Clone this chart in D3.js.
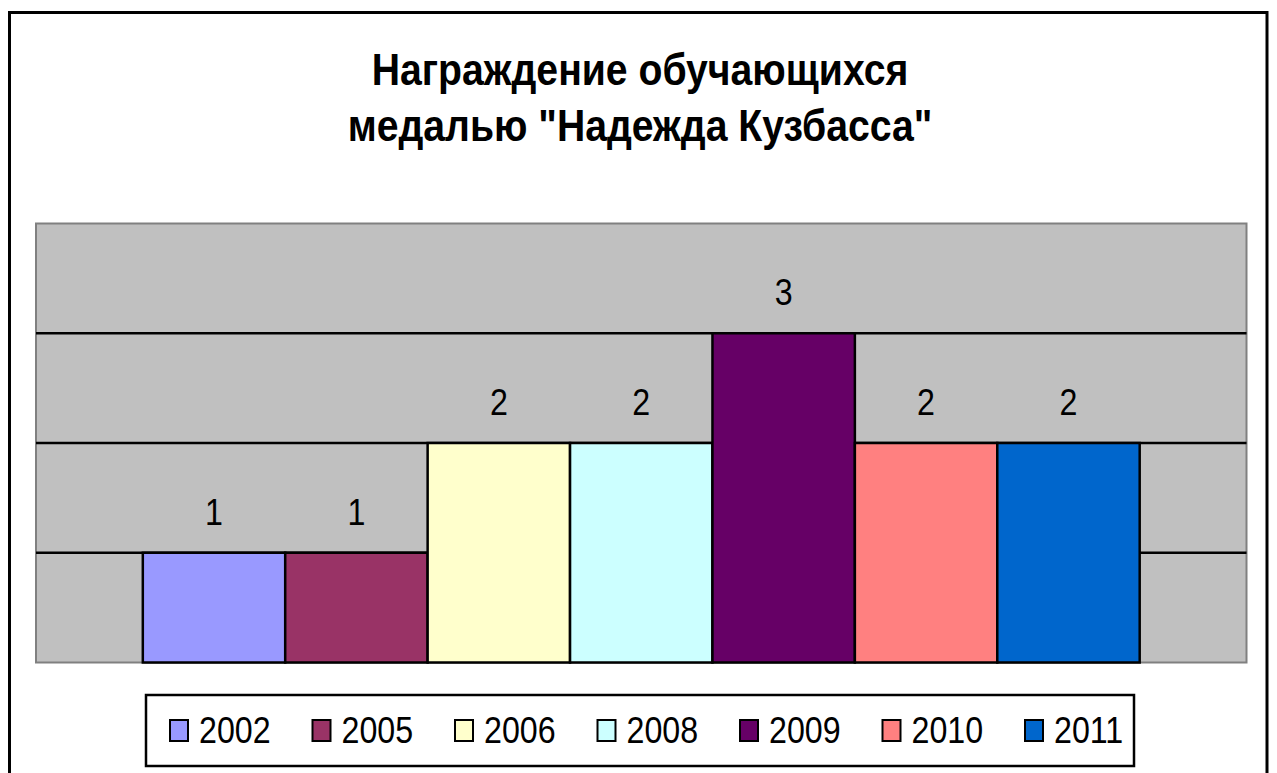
<!DOCTYPE html>
<html lang="ru">
<head>
  <meta charset="UTF-8">
  <title>Награждение обучающихся медалью "Надежда Кузбасса"</title>
  <script src="https://d3js.org/d3.v7.min.js"></script>
  <style>
    body { margin: 0; background: #fff; }
    svg { display: block; font-family: "Liberation Sans", Arial, sans-serif; }
  </style>
</head>
<body>
  <svg width="1277" height="773"></svg>

  <script>
    // data
    const years = ["2002", "2005", "2006", "2008", "2009", "2010", "2011"];
    const values = [1, 1, 2, 2, 3, 2, 2];
    const colors = ["#9999FF", "#993366", "#FFFFCC", "#CCFFFF", "#660066", "#FF8080", "#0066CC"];
    const yTicks = [0, 1, 2, 3, 4];
    const titleLines = ["Награждение обучающихся", "медалью \"Надежда Кузбасса\""];

    const svg = d3.select("svg");
    const sx = 0.87; // text in the original is squeezed horizontally

    // outer frame
    svg.append("rect")
      .attr("x", 9.5).attr("y", 12.5)
      .attr("width", 1257.5).attr("height", 800)
      .attr("fill", "#fff")
      .attr("stroke", "#000").attr("stroke-width", 3);

    // title
    const title = svg.append("g");
    titleLines.forEach((t, i) => {
      title.append("g")
        .attr("transform", `translate(640,${85 + i * 56}) scale(0.89,1)`)
        .append("text")
        .attr("text-anchor", "middle")
        .attr("font-size", 44)
        .attr("font-weight", "bold")
        .text(t);
    });

    // plot area
    const plot = { left: 36, right: 1246.5, top: 223.5, bottom: 662.5 };

    const x = d3.scaleBand()
      .domain(years)
      .range([plot.left, plot.right])
      .paddingInner(0)
      .paddingOuter(0.75);

    const y = d3.scaleLinear()
      .domain([0, 4])
      .range([plot.bottom, plot.top]);

    svg.append("rect")
      .attr("x", plot.left).attr("y", plot.top)
      .attr("width", plot.right - plot.left)
      .attr("height", plot.bottom - plot.top)
      .attr("fill", "#C0C0C0")
      .attr("stroke", "#808080").attr("stroke-width", 2);

    svg.append("g")
      .selectAll("line")
      .data(yTicks.filter(d => d > 0 && d < 4))
      .enter().append("line")
      .attr("x1", plot.left).attr("x2", plot.right)
      .attr("y1", d => y(d)).attr("y2", d => y(d))
      .attr("stroke", "#000").attr("stroke-width", 2.5);

    // bars
    svg.append("g")
      .selectAll("rect")
      .data(years)
      .enter().append("rect")
      .attr("x", d => x(d))
      .attr("y", (d, i) => y(values[i]))
      .attr("width", x.bandwidth())
      .attr("height", (d, i) => y(0) - y(values[i]))
      .attr("fill", (d, i) => colors[i])
      .attr("stroke", "#000").attr("stroke-width", 2.5);

    // data labels
    svg.append("g")
      .selectAll("g")
      .data(years)
      .enter().append("g")
      .attr("transform", (d, i) => `translate(${x(d) + x.bandwidth() / 2},${y(values[i]) - 28}) scale(${sx},1)`)
      .append("text")
      .attr("text-anchor", "middle")
      .attr("font-size", 37)
      .text((d, i) => values[i]);

    // legend
    const legend = svg.append("g");
    legend.append("rect")
      .attr("x", 146).attr("y", 695)
      .attr("width", 988).attr("height", 71)
      .attr("fill", "#fff")
      .attr("stroke", "#000").attr("stroke-width", 2.5);

    const item = legend.selectAll("g.item")
      .data(years)
      .enter().append("g")
      .attr("class", "item")
      .attr("transform", (d, i) => `translate(${170 + i * 142.5},0)`);

    item.append("rect")
      .attr("x", 0).attr("y", 720)
      .attr("width", 18).attr("height", 21)
      .attr("fill", (d, i) => colors[i])
      .attr("stroke", "#000").attr("stroke-width", 2);

    item.append("g")
      .attr("transform", `translate(29,743) scale(${sx},1)`)
      .append("text")
      .attr("font-size", 37)
      .text(d => d);
  </script>
</body>
</html>
